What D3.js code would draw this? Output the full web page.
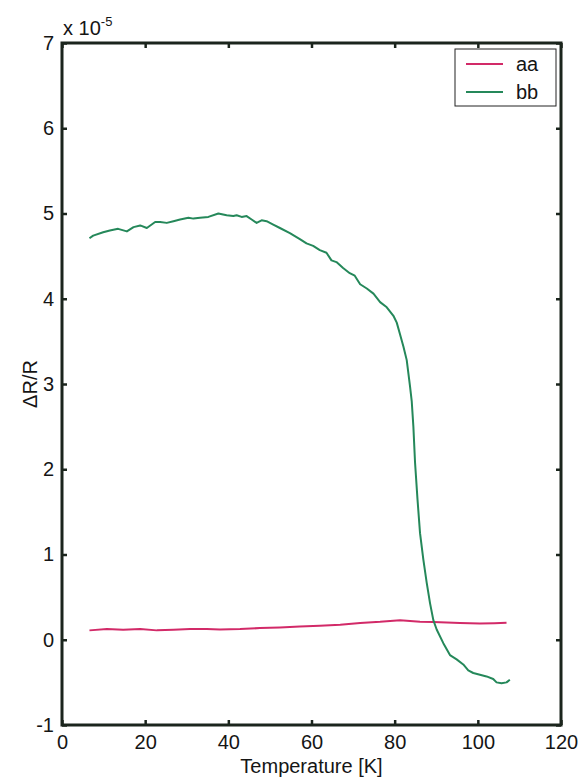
<!DOCTYPE html>
<html><head><meta charset="utf-8">
<script src="https://cdn.jsdelivr.net/npm/d3@7"></script>
<style>body{margin:0;background:#fff}svg{display:block}</style>
</head><body>
<script>
const xTicks = [0, 20, 40, 60, 80, 100, 120];
const yTicks = [-1, 0, 1, 2, 3, 4, 5, 6, 7];
const seriesNames = ["aa", "bb"];
const seriesColors = ["#d22a68", "#25885a"];
const aaT = [6.6, 10.8, 14.7, 18.8, 22.8, 26.8, 30.8, 34.8, 38.0, 42.8, 47.6, 52.4, 57.2, 62.0, 66.9, 71.7, 76.5, 81.3, 86.1, 89.3, 95.7, 100.5, 104.0, 106.9];
const aaV = [0.11, 0.125, 0.117, 0.125, 0.11, 0.117, 0.125, 0.125, 0.12, 0.125, 0.137, 0.145, 0.156, 0.164, 0.176, 0.196, 0.21, 0.23, 0.212, 0.207, 0.196, 0.19, 0.195, 0.20];
const bbT = [6.6, 7.5, 9.9, 11.5, 13.5, 15.6, 17.2, 18.8, 20.4, 22.4, 23.6, 25.2, 26.8, 28.4, 30.4, 31.6, 33.2, 35.2, 37.6, 39.6, 41.2, 42.0, 43.2, 44.4, 45.6, 46.8, 48.0, 49.2, 50.8, 52.4, 54.8, 57.2, 58.8, 60.4, 62.0, 63.6, 64.8, 66.0, 67.6, 69.2, 70.4, 71.7, 73.3, 74.9, 76.5, 78.1, 79.7, 80.5, 81.3, 82.1, 82.9, 83.7, 84.1, 84.5, 84.9, 85.5, 86.1, 86.9, 87.7, 88.5, 89.3, 90.1, 91.7, 93.3, 94.9, 96.5, 97.7, 98.9, 100.5, 102.1, 103.7, 104.5, 105.7, 106.9, 107.7];
const bbV = [4.71, 4.74, 4.78, 4.80, 4.82, 4.79, 4.84, 4.86, 4.83, 4.90, 4.90, 4.89, 4.91, 4.93, 4.95, 4.94, 4.95, 4.96, 5.00, 4.98, 4.97, 4.98, 4.96, 4.97, 4.93, 4.89, 4.92, 4.91, 4.87, 4.83, 4.77, 4.70, 4.65, 4.62, 4.57, 4.54, 4.45, 4.43, 4.36, 4.30, 4.27, 4.17, 4.12, 4.06, 3.96, 3.90, 3.80, 3.72, 3.58, 3.44, 3.28, 2.97, 2.80, 2.50, 2.08, 1.64, 1.25, 0.94, 0.67, 0.43, 0.23, 0.12, -0.04, -0.18, -0.23, -0.29, -0.36, -0.39, -0.41, -0.43, -0.46, -0.50, -0.51, -0.50, -0.47];

const W = 583, H = 779;
const L = 62, R = 561, T = 43, B = 725;
const font = "'Liberation Sans', Arial, Helvetica, sans-serif";
const frameColor = "#1b251d";
const textColor = "#151515";
const fs = "20px";

const svg = d3.select("body").append("svg").attr("width", W).attr("height", H)
  .style("font-family", font);

const x = d3.scaleLinear().domain([0, 120]).range([L, R]);
const y = d3.scaleLinear().domain([-1, 7]).range([B, T]);

const line = d3.line().x(d => x(d[0])).y(d => y(d[1]));
const seriesData = [aaT.map((t, i) => [t, aaV[i]]), bbT.map((t, i) => [t, bbV[i]])];

const plot = svg.append("g");
seriesData.forEach((d, i) => {
  plot.append("path").datum(d).attr("d", line).attr("fill", "none")
    .attr("stroke", seriesColors[i]).attr("stroke-width", 2).attr("stroke-linejoin", "round");
});

const fmt = d => String(d);
const tickLen = 5;
const axB = svg.append("g").attr("transform", `translate(0,${B})`)
  .call(d3.axisBottom(x).tickValues(xTicks).tickFormat(fmt).tickSizeInner(-tickLen).tickSizeOuter(0).tickPadding(10));
const axT = svg.append("g").attr("transform", `translate(0,${T})`)
  .call(d3.axisTop(x).tickValues(xTicks).tickSizeInner(-tickLen).tickSizeOuter(0).tickFormat(""));
const axL = svg.append("g").attr("transform", `translate(${L},0)`)
  .call(d3.axisLeft(y).tickValues(yTicks).tickFormat(fmt).tickSizeInner(-tickLen).tickSizeOuter(0).tickPadding(8));
const axR = svg.append("g").attr("transform", `translate(${R},0)`)
  .call(d3.axisRight(y).tickValues(yTicks).tickSizeInner(-tickLen).tickSizeOuter(0).tickFormat(""));
[axB, axT, axL, axR].forEach(a => {
  a.select(".domain").remove();
  a.selectAll(".tick line").attr("stroke", frameColor).attr("stroke-width", 2.5);
  a.selectAll(".tick text").attr("fill", textColor).style("font-size", fs).style("font-family", font);
});
axB.selectAll(".tick text").attr("dy", "0.71em");

svg.append("rect").attr("x", L).attr("y", T).attr("width", R - L).attr("height", B - T)
  .attr("fill", "none").attr("stroke", frameColor).attr("stroke-width", 3);

const ex = svg.append("text").attr("x", L + 1).attr("y", T - 8).attr("fill", textColor)
  .style("font-size", fs);
ex.append("tspan").text("x 10");
ex.append("tspan").attr("dy", -9).style("font-size", "13px").text("-5");

svg.append("text").attr("x", (L + R) / 2).attr("y", 773).attr("text-anchor", "middle")
  .attr("fill", textColor).style("font-size", fs).text("Temperature [K]");
svg.append("text").attr("transform", `translate(37,${(T + B) / 2}) rotate(-90)`)
  .attr("text-anchor", "middle").attr("fill", textColor).style("font-size", fs).text("ΔR/R");

const lg = svg.append("g");
lg.append("rect").attr("x", 455).attr("y", 49).attr("width", 101).attr("height", 57)
  .attr("fill", "#fff").attr("stroke", "#222").attr("stroke-width", 1);
seriesNames.forEach((n, i) => {
  const yy = 64 + i * 28;
  lg.append("line").attr("x1", 466).attr("x2", 503).attr("y1", yy).attr("y2", yy)
    .attr("stroke", seriesColors[i]).attr("stroke-width", 2);
  lg.append("text").attr("x", 516).attr("y", yy).attr("dy", "0.35em").attr("fill", textColor)
    .style("font-size", fs).text(n);
});
</script>
</body></html>
